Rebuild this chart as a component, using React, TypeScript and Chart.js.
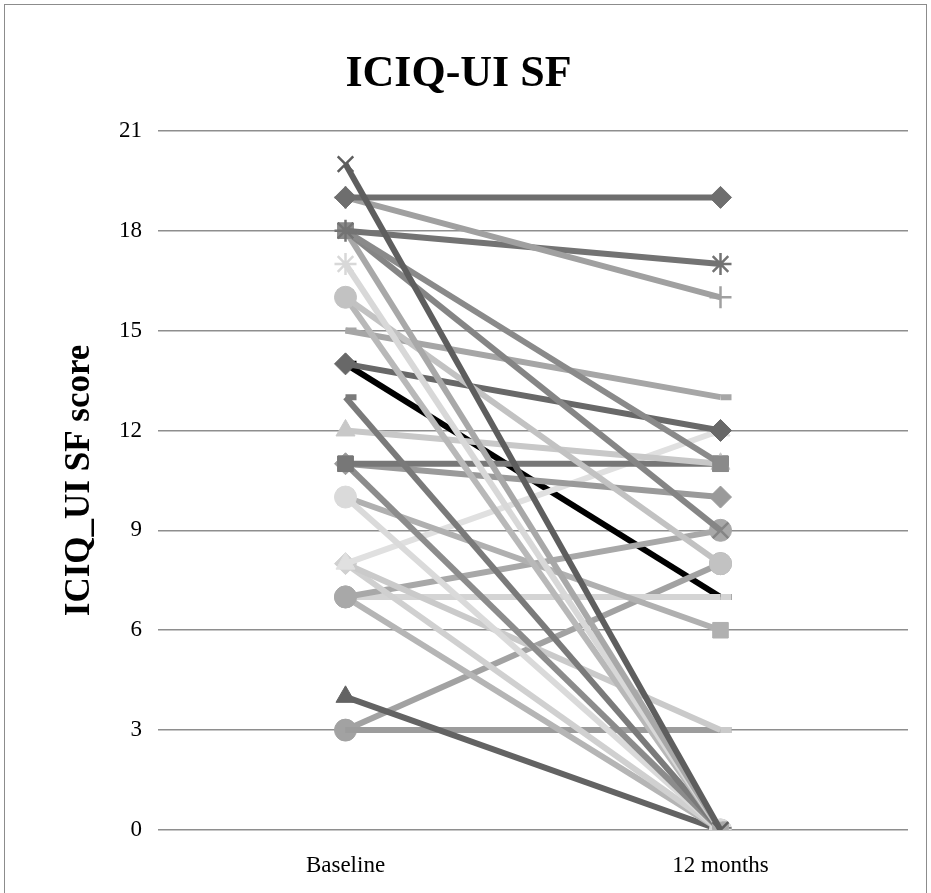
import React, { useEffect, useRef } from "react";
import { Chart, registerables } from "chart.js";

Chart.register(...registerables);

const categories = ["Baseline", "12 months"];
const yTicks = [0, 3, 6, 9, 12, 15, 18, 21];

// Each patient: score at baseline and at 12 months
const baselineScores = [20, 19, 19, 18, 18, 18, 18, 17, 16, 16, 15, 14, 13, 12, 11, 11, 11, 10, 10, 8, 8, 8, 7, 7, 7, 4, 3, 3, 14];
const month12Scores = [0, 19, 16, 17, 11, 9, 0, 0, 8, 0, 13, 12, 0, 11, 11, 10, 0, 0, 6, 12, 3, 0, 9, 7, 0, 0, 3, 8, 7];

// Styles (not data)
const seriesColors = [
  "#5e5e5e", "#6e6e6e", "#a0a0a0", "#737373", "#8a8a8a", "#858585", "#a8a8a8", "#d8d8d8",
  "#c2c2c2", "#b8b8b8", "#a6a6a6", "#686868", "#7a7a7a", "#c8c8c8", "#777777", "#9a9a9a",
  "#8c8c8c", "#dadada", "#b0b0b0", "#e0e0e0", "#cacaca", "#d0d0d0", "#a8a8a8", "#d4d4d4",
  "#b5b5b5", "#636363", "#9c9c9c", "#a2a2a2", "#000000",
];
const seriesMarkers = [
  "crossRot", "rectRot", "cross", "star", "rect", "crossRot", "rect", "star",
  "circle", "rect", "dash", "rectRot", "dash", "triangle", "rect", "rectRot",
  "rect", "circle", "rect", "triangle", "dash", "rectRot", "circle", "dash",
  "circle", "triangle", "dash", "circle", "dash",
];

const FONT = "'Liberation Serif', 'DejaVu Serif', serif";

export default function App() {
  const ref = useRef<HTMLCanvasElement | null>(null);

  useEffect(() => {
    if (!ref.current) return;
    const datasets = baselineScores.map((b, i) => {
      const marker = seriesMarkers[i];
      const lineLike = ["cross", "crossRot", "star", "dash"].includes(marker);
      return {
        label: "P" + (i + 1),
        data: [b, month12Scores[i]],
        borderColor: seriesColors[i],
        backgroundColor: seriesColors[i],
        borderWidth: 6,
        pointStyle: marker as any,
        pointRadius: 11,
        pointBorderWidth: lineLike ? (marker === "dash" ? 6 : 2.5) : 1,
        pointBorderColor: seriesColors[i],
        pointBackgroundColor: seriesColors[i],
        tension: 0,
      };
    });
    const chart = new Chart(ref.current, {
      type: "line",
      data: { labels: categories, datasets },
      options: {
        animation: false,
        responsive: false,
        devicePixelRatio: 1,
        layout: { padding: { left: 0, right: 13, top: 0, bottom: 0 } },
        plugins: {
          legend: { display: false },
          tooltip: { enabled: false },
          title: {
            display: true,
            text: "ICIQ-UI SF",
            color: "#000",
            font: { family: FONT, size: 44, weight: "bold" },
            padding: { top: 43, bottom: 30 },
          },
        },
        scales: {
          x: {
            offset: true,
            grid: { display: false },
            border: { display: false },
            ticks: { color: "#000", font: { family: FONT, size: 23 }, padding: 14 },
            afterFit: (s: any) => { s.height = 63; },
          },
          y: {
            min: 0,
            max: 21,
            afterBuildTicks: (s: any) => { s.ticks = yTicks.map((v) => ({ value: v })); },
            grid: { color: "#8e8e8e", lineWidth: 1.5, drawTicks: false },
            border: { display: false },
            ticks: { color: "#000", font: { family: FONT, size: 23 }, padding: 16 },
            title: {
              display: true,
              text: "ICIQ_UI SF score",
              color: "#000",
              font: { family: FONT, size: 35, weight: "bold" },
              padding: { top: 54, bottom: 0 },
            },
            afterFit: (s: any) => { s.width = 153; },
          },
        },
      },
    });
    return () => chart.destroy();
  }, []);

  return (
    <div
      style={{
        position: "absolute",
        left: 4,
        top: 4,
        width: 921,
        height: 900,
        border: "1px solid #8c8c8c",
        background: "#fff",
      }}
    >
      <canvas ref={ref} width={920} height={888} style={{ display: "block" }} />
    </div>
  );
}
